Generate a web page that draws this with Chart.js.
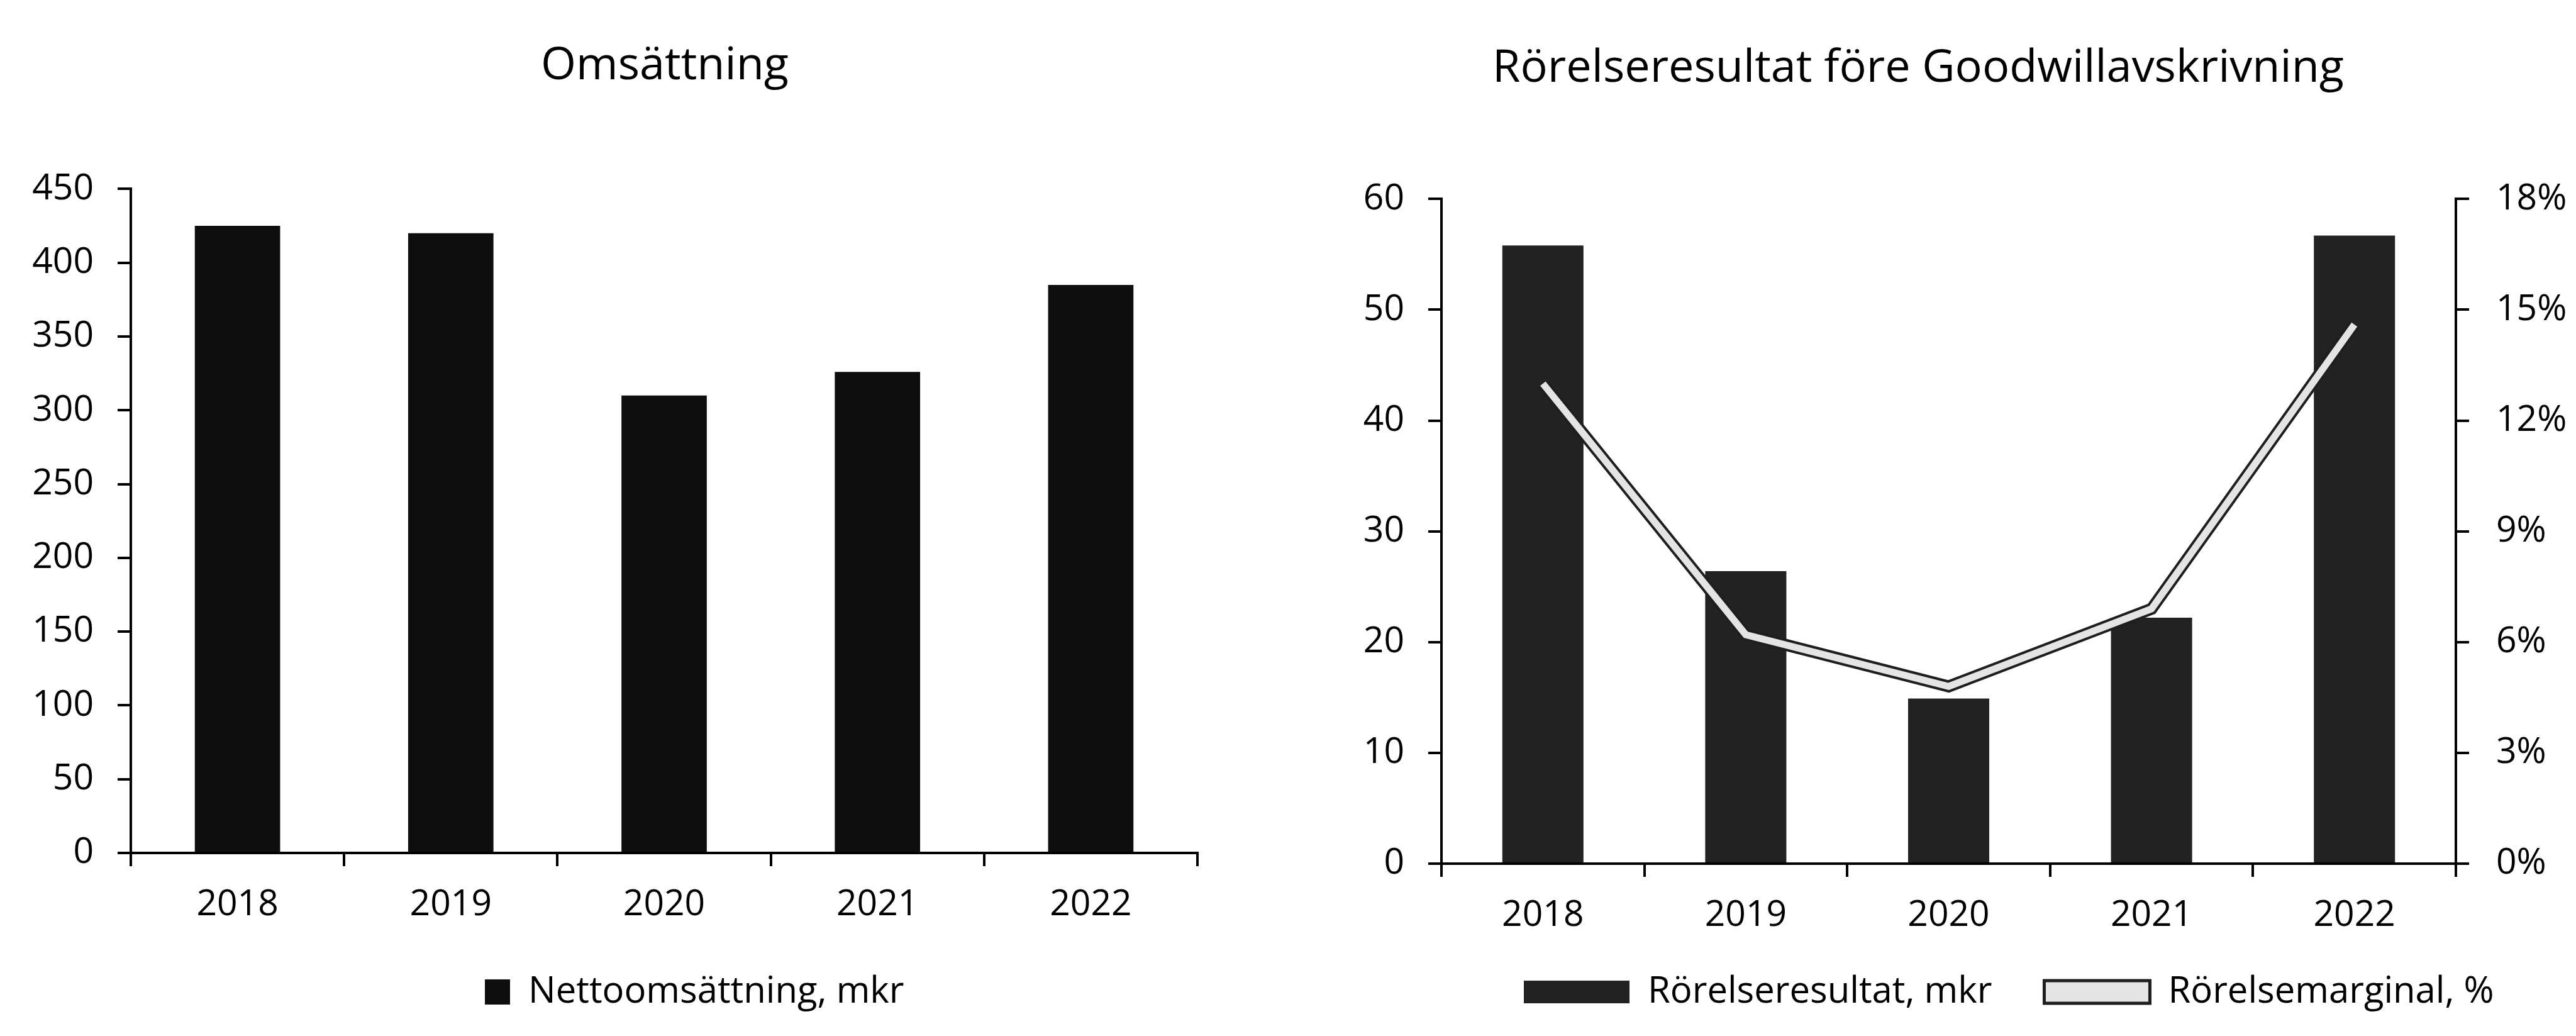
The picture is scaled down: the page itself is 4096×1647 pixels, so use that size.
<!DOCTYPE html>
<html>
<head>
<meta charset="utf-8">
<script src="https://cdn.jsdelivr.net/npm/chart.js@4.4.1/dist/chart.umd.min.js"></script>
<style>
    html, body { margin: 0; padding: 0; background: #fff; }
    body { width: 4096px; height: 1647px; position: relative; overflow: hidden; }
    canvas { position: absolute; top: 0; }
    #omsChart { left: 0; }
    #resChart { left: 2048px; }
</style>
</head>
<body>
<canvas id="omsChart" width="2048" height="1647"></canvas>
<canvas id="resChart" width="2048" height="1647"></canvas>

<script>
// --- data ---
const years = ["2018", "2019", "2020", "2021", "2022"];
const nettoomsattning = [425, 420, 310, 326, 385];        // mkr
const rorelseresultat = [55.8, 26.4, 14.9, 22.2, 56.7];   // mkr
const rorelsemarginal = [13.0, 6.2, 4.8, 6.9, 14.6];      // %

const omsTicks = { min: 0, max: 450, step: 50 };
const resTicks = { min: 0, max: 60, step: 10 };
const pctTicks = { min: 0, max: 18, step: 3 };

const leftTitle = "Omsättning";
const rightTitle = "Rörelseresultat före Goodwillavskrivning";
const omsLabel = "Nettoomsättning, mkr";
const resLabel = "Rörelseresultat, mkr";
const pctLabel = "Rörelsemarginal, %";

Chart.defaults.font.family = "'Open Sans', 'Noto Sans', sans-serif";
Chart.defaults.color = "#000";

const tickFont = { size: 57, lineHeight: 1.2 };
const titleFont = { size: 72, weight: "normal", lineHeight: 1.2 };
const legendFont = { size: 58, lineHeight: 1.2 };

// moves title / legend to fixed spots after layout
const nudge = {
    id: "nudge",
    afterLayout(chart, args, opts) {
        const t = chart.titleBlock;
        if (t && opts.titleX != null) {
            const dx = opts.titleX - (t.left + t.right) / 2;
            t.left += dx;
            t.right += dx;
        }
        const lg = chart.legend;
        if (lg && opts.legendX != null) {
            const lab = lg.options.labels;
            const pad = lab.padding;
            const start = (lg.left + pad + lg.right - lg.lineWidths[0]) / 2;
            const dx = opts.legendX - start;
            lg.left += dx;
            lg.right += dx;
            const itemH = Math.max(lab.font.size, lab.boxHeight);
            const top = opts.legendY - pad - itemH / 2;
            lg.bottom += top - lg.top;
            lg.top = top;
        }
    }
};

function axisLine() {
    return { display: true, color: "#000", width: 4 };
}

function tickGrid() {
    return { drawOnChartArea: false, drawTicks: true, tickLength: 21, color: "#000", lineWidth: 4 };
}

function xAxis(height) {
    return {
        type: "category",
        offset: true,
        border: axisLine(),
        grid: Object.assign(tickGrid(), { offset: true }),
        ticks: { font: tickFont, padding: 28, maxRotation: 0, autoSkip: false },
        afterFit: s => { s.height = height; }
    };
}

//#region --- Omsättning ---
new Chart(document.getElementById("omsChart"), {
    type: "bar",
    data: {
        labels: years,
        datasets: [{
            label: omsLabel,
            data: nettoomsattning,
            backgroundColor: "#0e0e0e",
            categoryPercentage: 1,
            barPercentage: 0.4
        }]
    },
    options: {
        responsive: false,
        animation: false,
        events: [],
        layout: { padding: { left: 0, right: 144, top: 0, bottom: 0 } },
        scales: {
            x: xAxis(1647 - 88 - 1346),
            y: {
                min: omsTicks.min,
                max: omsTicks.max,
                border: axisLine(),
                grid: tickGrid(),
                ticks: { stepSize: omsTicks.step, font: tickFont, padding: 38 },
                afterFit: s => { s.width = 208; }
            }
        },
        plugins: {
            title: { display: true, text: leftTitle, font: titleFont, padding: { top: 62, bottom: 152 } },
            legend: {
                position: "bottom",
                labels: { font: legendFont, boxWidth: 40, boxHeight: 40, padding: 10 }
            },
            tooltip: { enabled: false },
            nudge: { titleX: 1057, legendX: 771, legendY: 1577 }
        }
    },
    plugins: [nudge]
});
//#endregion

//#region --- Rörelseresultat ---
new Chart(document.getElementById("resChart"), {
    type: "bar",
    data: {
        labels: years,
        datasets: [
            {
                label: pctLabel + "_inner",
                type: "line",
                data: rorelsemarginal,
                yAxisID: "y1",
                borderColor: "#e4e4e4",
                borderWidth: 11,
                pointRadius: 0,
                tension: 0,
                order: 0
            },
            {
                label: pctLabel,
                type: "line",
                data: rorelsemarginal,
                yAxisID: "y1",
                borderColor: "#1e1e1e",
                borderWidth: 19,
                pointRadius: 0,
                tension: 0,
                order: 1
            },
            {
                label: resLabel,
                data: rorelseresultat,
                yAxisID: "y",
                backgroundColor: "#222222",
                categoryPercentage: 1,
                barPercentage: 0.4,
                order: 2
            }
        ]
    },
    options: {
        responsive: false,
        animation: false,
        events: [],
        // legend is tall (wide item gap), so it hangs below the canvas and gets moved back up
        layout: { padding: { left: 0, right: 0, top: 0, bottom: -47 } },
        scales: {
            x: xAxis(170),
            y: {
                position: "left",
                min: resTicks.min,
                max: resTicks.max,
                border: axisLine(),
                grid: tickGrid(),
                ticks: { stepSize: resTicks.step, font: tickFont, padding: 38 },
                afterFit: s => { s.width = 244; }
            },
            y1: {
                position: "right",
                min: pctTicks.min,
                max: pctTicks.max,
                border: axisLine(),
                grid: tickGrid(),
                ticks: {
                    stepSize: pctTicks.step,
                    font: tickFont,
                    padding: 43,
                    callback: v => v + "%"
                },
                afterFit: s => { s.width = 191; }
            }
        },
        plugins: {
            title: { display: true, text: rightTitle, font: titleFont, padding: { top: 66, bottom: 164 } },
            legend: {
                position: "bottom",
                labels: {
                    font: legendFont,
                    boxWidth: 168,
                    boxHeight: 36,
                    padding: 83,
                    generateLabels: () => [
                        { text: resLabel, fillStyle: "#222222", strokeStyle: "#222222", lineWidth: 0, datasetIndex: 2, hidden: false },
                        { text: pctLabel, fillStyle: "#e4e4e4", strokeStyle: "#1e1e1e", lineWidth: 5, datasetIndex: 1, hidden: false }
                    ]
                }
            },
            tooltip: { enabled: false },
            nudge: { titleX: 1002, legendX: 375, legendY: 1577 }
        }
    },
    plugins: [nudge]
});
//#endregion
</script>
</body>
</html>
